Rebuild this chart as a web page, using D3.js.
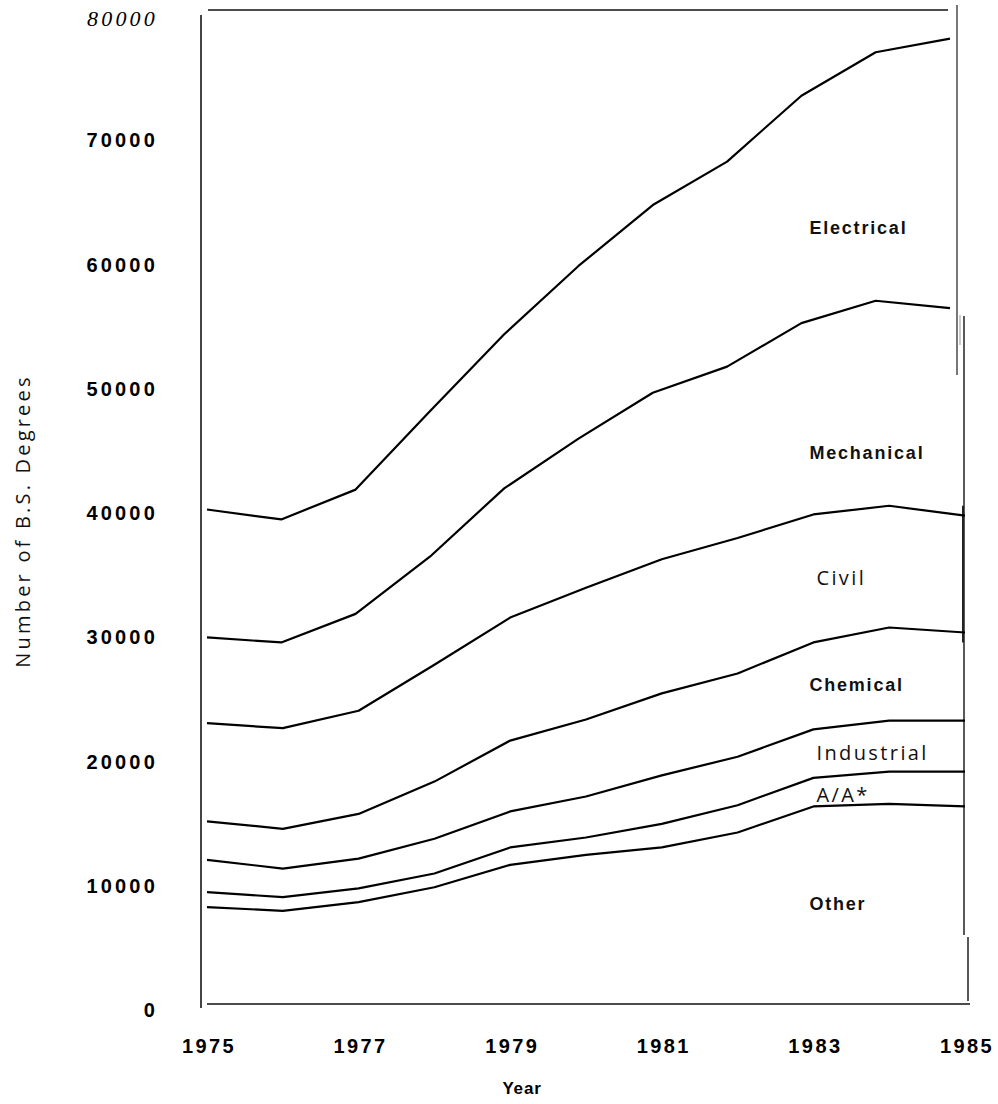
<!DOCTYPE html>
<html>
<head>
<meta charset="utf-8">
<script src="https://cdn.jsdelivr.net/npm/d3@7"></script>
<style>
  html, body { margin: 0; padding: 0; background: #fff; }
  svg { display: block; }
</style>
</head>
<body>
<svg id="chart" width="998" height="1104"></svg>
<script>
// ---- Data ----
const years = [1975, 1976, 1977, 1978, 1979, 1980, 1981, 1982, 1983, 1984, 1985];
const categories = ["Other", "A/A*", "Industrial", "Chemical", "Civil", "Mechanical", "Electrical"];
const other      = [7800, 7500, 8200, 9400, 11200, 12000, 12600, 13800, 15900, 16100, 15900];
const aa         = [1200, 1100, 1100, 1100, 1400, 1400, 1900, 2200, 2300, 2600, 2800];
const industrial = [2600, 2300, 2400, 2800, 2900, 3300, 3900, 3900, 3900, 4100, 4100];
const chemical   = [3100, 3200, 3600, 4600, 5700, 6200, 6600, 6700, 7000, 7500, 7100];
const civil      = [7900, 8100, 8300, 9400, 9900, 10600, 10800, 10900, 10300, 9800, 9400];
const mechanical = [6900, 6900, 7800, 8700, 10400, 12000, 13400, 13800, 15400, 16500, 16700];
const electrical = [10300, 9900, 10000, 11700, 12400, 13900, 15100, 16500, 18300, 20000, 21700];
const yTicks = [0, 10000, 20000, 30000, 40000, 50000, 60000, 70000, 80000];
const xTicks = [1975, 1977, 1979, 1981, 1983, 1985];
const labelAnchorYear = 1983;
const labelValues = [8100, 16800, 20200, 25700, 34300, 44400, 62500];
const boldLabels = ["Other", "Chemical", "Mechanical", "Electrical"];

// ---- Build table and stack ----
const seriesByKey = {
  "Other": other, "A/A*": aa, "Industrial": industrial, "Chemical": chemical,
  "Civil": civil, "Mechanical": mechanical, "Electrical": electrical
};
const table = years.map((yr, i) => {
  const row = { year: yr };
  categories.forEach(k => row[k] = seriesByKey[k][i]);
  return row;
});
const stacked = d3.stack().keys(categories)(table);

// ---- Scales ----
const svg = d3.select("#chart");
const x = d3.scaleLinear().domain([1975, 1985]).range([207, 965]);
// upper part of the original scan is slightly narrower
const xTop = d3.scaleLinear().domain([1975, 1985]).range([207, 950]);
const y = d3.scaleLinear().domain([0, 80000]).range([1004, 10]);

const topKeys = ["Mechanical", "Electrical"];

// ---- Frame ----
const frame = svg.append("g").attr("fill", "none");
frame.append("line").attr("x1", 201).attr("x2", 201).attr("y1", y(80000) + 5).attr("y2", y(0) + 4)
  .attr("stroke", "#444").attr("stroke-width", 2);
frame.append("line").attr("x1", x(1975)).attr("x2", x(1985) + 5).attr("y1", y(0)).attr("y2", y(0))
  .attr("stroke", "#111").attr("stroke-width", 1.5);
frame.append("line").attr("x1", x(1975) + 1).attr("x2", xTop(1985) - 2).attr("y1", y(80000)).attr("y2", y(80000))
  .attr("stroke", "#111").attr("stroke-width", 1.5);
frame.append("line").attr("x1", xTop(1985) + 7).attr("x2", xTop(1985) + 7).attr("y1", y(80000) - 5).attr("y2", 375)
  .attr("stroke", "#777").attr("stroke-width", 2);
frame.append("line").attr("x1", xTop(1985) + 10).attr("x2", xTop(1985) + 10).attr("y1", 315).attr("y2", 345)
  .attr("stroke", "#999").attr("stroke-width", 1);
frame.append("line").attr("x1", x(1985) - 1).attr("x2", x(1985) - 1).attr("y1", 316).attr("y2", 935)
  .attr("stroke", "#222").attr("stroke-width", 1.5);
frame.append("line").attr("x1", x(1985) - 2).attr("x2", x(1985) - 2).attr("y1", y(39300) - 10).attr("y2", y(29900) + 10)
  .attr("stroke", "#222").attr("stroke-width", 2);
frame.append("line").attr("x1", x(1985) + 3).attr("x2", x(1985) + 3).attr("y1", 937).attr("y2", y(0) - 3)
  .attr("stroke", "#222").attr("stroke-width", 1.5);

// ---- Lines (top of each stacked layer) ----
const lineG = svg.append("g");
stacked.forEach(layer => {
  const xs = topKeys.includes(layer.key) ? xTop : x;
  const line = d3.line()
    .x(d => xs(d.data.year))
    .y(d => y(d[1]));
  lineG.append("path")
    .datum(layer)
    .attr("d", line)
    .attr("fill", "none")
    .attr("stroke", "#000")
    .attr("stroke-width", 2.2)
    .attr("stroke-linejoin", "round");
});

// ---- Y tick labels ----
const yLab = svg.append("g");
yTicks.forEach(v => {
  const t = yLab.append("text")
    .attr("x", 158)
    .attr("y", y(v) + 13)
    .attr("text-anchor", "end")
    .text(v);
  if (v === 80000) {
    t.attr("font-family", "'Liberation Serif', serif").attr("font-style", "italic")
     .attr("font-size", 22).attr("letter-spacing", 3.2).attr("y", y(v) + 16);
  } else {
    t.attr("font-family", "'Liberation Sans', Arial, sans-serif").attr("font-weight", "bold")
     .attr("font-size", 20).attr("letter-spacing", 3.2);
  }
});

// ---- X tick labels ----
const xLab = svg.append("g");
xTicks.forEach(v => {
  xLab.append("text")
    .attr("x", x(v) + 2)
    .attr("y", 1053)
    .attr("text-anchor", "middle")
    .attr("font-family", "'Liberation Sans', Arial, sans-serif")
    .attr("font-weight", "bold")
    .attr("font-size", 20)
    .attr("letter-spacing", 2.4)
    .text(v);
});

// ---- Axis titles ----
svg.append("text")
  .attr("x", 522).attr("y", 1094)
  .attr("text-anchor", "middle")
  .attr("font-family", "'Liberation Sans', Arial, sans-serif")
  .attr("font-weight", "bold").attr("font-size", 17).attr("letter-spacing", 0.8)
  .text("Year");

svg.append("text")
  .attr("transform", "translate(30,521) rotate(-90)")
  .attr("text-anchor", "middle")
  .attr("font-family", "'Open Sans', 'DejaVu Sans', sans-serif")
  .attr("font-weight", 400).attr("font-size", 20).attr("letter-spacing", 3.2)
  .attr("fill", "#111")
  .text("Number of B.S. Degrees");

// ---- Category labels ----
const catG = svg.append("g");
categories.forEach((k, i) => {
  const bold = boldLabels.includes(k);
  catG.append("text")
    .attr("x", x(labelAnchorYear) + (bold ? -4 : 3))
    .attr("y", y(labelValues[i]))
    .attr("dy", "0.36em")
    .attr("font-family", bold ? "'Liberation Sans', Arial, sans-serif" : "'Open Sans', 'DejaVu Sans', sans-serif")
    .attr("font-weight", bold ? "bold" : 400)
    .attr("font-size", bold ? 18 : 20)
    .attr("letter-spacing", bold ? 1.8 : 2.4)
    .attr("fill", "#111")
    .text(k);
});
</script>
</body>
</html>
